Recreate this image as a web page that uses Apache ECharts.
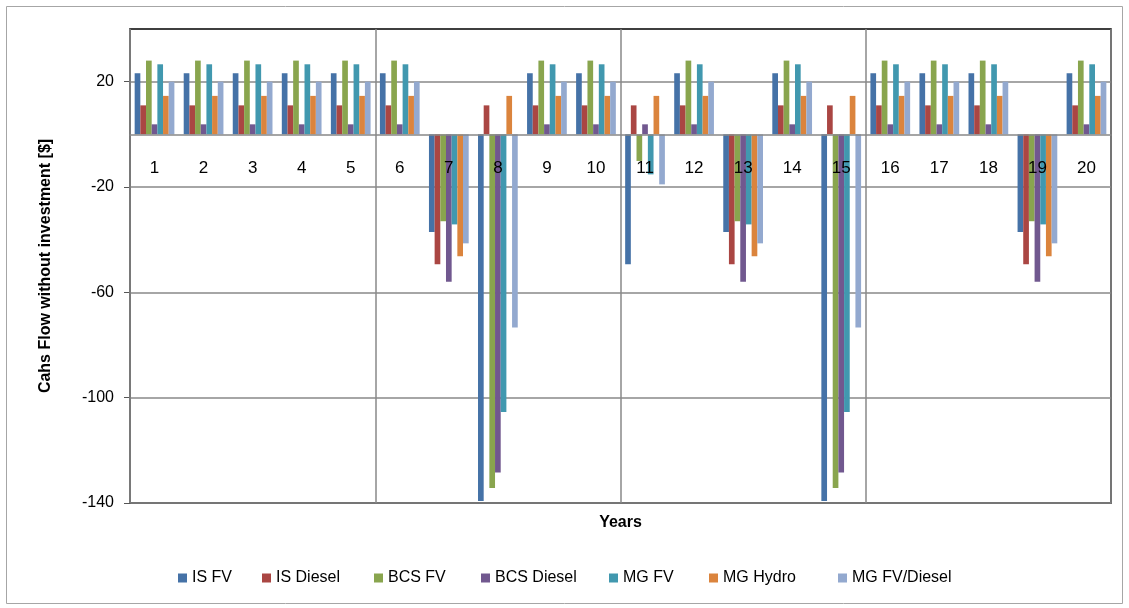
<!DOCTYPE html>
<html>
<head>
<meta charset="utf-8">
<title>Cash flow without investment</title>
<script src="https://cdn.jsdelivr.net/npm/echarts@6/dist/echarts.min.js"></script>
<style>
  html, body { margin: 0; padding: 0; background: #fff; }
  #chart { width: 1129px; height: 608px; }
</style>
</head>
<body>
<div id="chart"></div>
<script>
// Years of the project horizon
const years = ['1','2','3','4','5','6','7','8','9','10','11','12','13','14','15','16','17','18','19','20'];

// Yearly cash flow (without the initial investment) per system, in $
const isFV       = [23.2, 23.2, 23.2, 23.2, 23.2, 23.2, -37.1, -139.2, 23.2, 23.2, -49.3, 23.2, -37.1, 23.2, -139.2, 23.2, 23.2, 23.2, -37.1, 23.2];
const isDiesel   = [11, 11, 11, 11, 11, 11, -49.3, 11, 11, 11, 11, 11, -49.3, 11, 11, 11, 11, 11, -49.3, 11];
const bcsFV      = [28, 28, 28, 28, 28, 28, -33, -134.3, 28, 28, -10.1, 28, -33, 28, -134.3, 28, 28, 28, -33, 28];
const bcsDiesel  = [3.8, 3.8, 3.8, 3.8, 3.8, 3.8, -56, -128.4, 3.8, 3.8, 3.8, 3.8, -56, 3.8, -128.4, 3.8, 3.8, 3.8, -56, 3.8];
const mgFV       = [26.6, 26.6, 26.6, 26.6, 26.6, 26.6, -34.2, -105.4, 26.6, 26.6, -15.2, 26.6, -34.2, 26.6, -105.4, 26.6, 26.6, 26.6, -34.2, 26.6];
const mgHydro    = [14.6, 14.6, 14.6, 14.6, 14.6, 14.6, -46.3, 14.6, 14.6, 14.6, 14.6, 14.6, -46.3, 14.6, 14.6, 14.6, 14.6, 14.6, -46.3, 14.6];
const mgFVDiesel = [20, 20, 20, 20, 20, 20, -41.4, -73.4, 20, 20, -19, 20, -41.4, 20, -73.4, 20, 20, 20, -41.4, 20];

const seriesNames = ['IS FV', 'IS Diesel', 'BCS FV', 'BCS Diesel', 'MG FV', 'MG Hydro', 'MG FV/Diesel'];
const seriesData  = [isFV, isDiesel, bcsFV, bcsDiesel, mgFV, mgHydro, mgFVDiesel];
const colors      = ['#4572A7', '#AA4643', '#89A54E', '#71588F', '#4198AF', '#DB843D', '#93A9CF'];

// Value axis ticks
const yTicks = [-140, -100, -60, -20, 20];
const yMin = -140;
const yMax = 40;

const FONT = 'Liberation Sans';

// Plot area
const W = 1129, H = 608;
const gridLeft = 130, gridRight = 18, gridTop = 29, gridBottom = 105;
const plotH = H - gridTop - gridBottom;
// Category axis sits on the zero line: shift it up from the bottom edge
const zeroOffset = -((0 - yMin) / (yMax - yMin)) * plotH;

// Left edge of each legend entry along the bottom row
const legendLeft = [178, 262, 374, 481, 609, 709, 838];

const chart = echarts.init(document.getElementById('chart'), null, { renderer: 'canvas' });

chart.setOption({
  animation: false,
  backgroundColor: '#fff',
  color: colors,
  textStyle: { fontFamily: FONT },
  grid: {
    left: gridLeft, right: gridRight, top: gridTop, bottom: gridBottom,
    show: true, borderColor: '#000', borderWidth: 1.5,
    containLabel: false
  },
  graphic: [
    {
      type: 'rect', silent: true, z: -1,
      shape: { x: 6.5, y: 6.5, width: 1116, height: 597 },
      style: { fill: 'none', stroke: '#a6a6a6', lineWidth: 1 }
    },
    {
      type: 'text', silent: true,
      x: (gridLeft + W - gridRight) / 2, y: 523,
      style: { text: 'Years', font: 'bold 16px ' + FONT, fill: '#000', align: 'center', verticalAlign: 'middle' }
    }
  ],
  legend: seriesNames.map((name, i) => ({
    data: [name],
    top: 570, left: legendLeft[i],
    padding: 0,
    icon: 'rect', itemWidth: 9, itemHeight: 9, itemGap: 0,
    textStyle: { fontSize: 16, color: '#000', fontFamily: FONT }
  })),
  xAxis: {
    type: 'category',
    data: years,
    z: 10,
    position: 'bottom',
    offset: zeroOffset,
    axisLine: { onZero: false, lineStyle: { color: '#888', width: 1.5 } },
    axisTick: { show: false },
    axisLabel: { margin: 25, fontSize: 17, color: '#000', fontFamily: FONT },
    splitLine: { show: true, interval: 4, lineStyle: { color: '#888', width: 1.5 } }
  },
  yAxis: {
    type: 'value',
    min: yMin, max: yMax,
    name: 'Cahs Flow without investment [$]',
    nameLocation: 'middle', nameGap: 76,
    nameTextStyle: { fontSize: 16, fontWeight: 'bold', color: '#000', fontFamily: FONT },
    axisLine: { show: true, lineStyle: { color: '#555', width: 1.5 } },
    axisTick: { show: true, length: 6, customValues: yTicks, lineStyle: { color: '#555', width: 1 } },
    axisLabel: { customValues: yTicks, margin: 16, fontSize: 16, color: '#000', fontFamily: FONT },
    splitLine: { show: true, lineStyle: { color: '#888', width: 1.5 } }
  },
  series: seriesNames.map((name, i) => ({
    name,
    type: 'bar',
    data: seriesData[i],
    barGap: '0%',
    barCategoryGap: '19%',
    itemStyle: { color: colors[i] }
  }))
});
</script>
</body>
</html>
